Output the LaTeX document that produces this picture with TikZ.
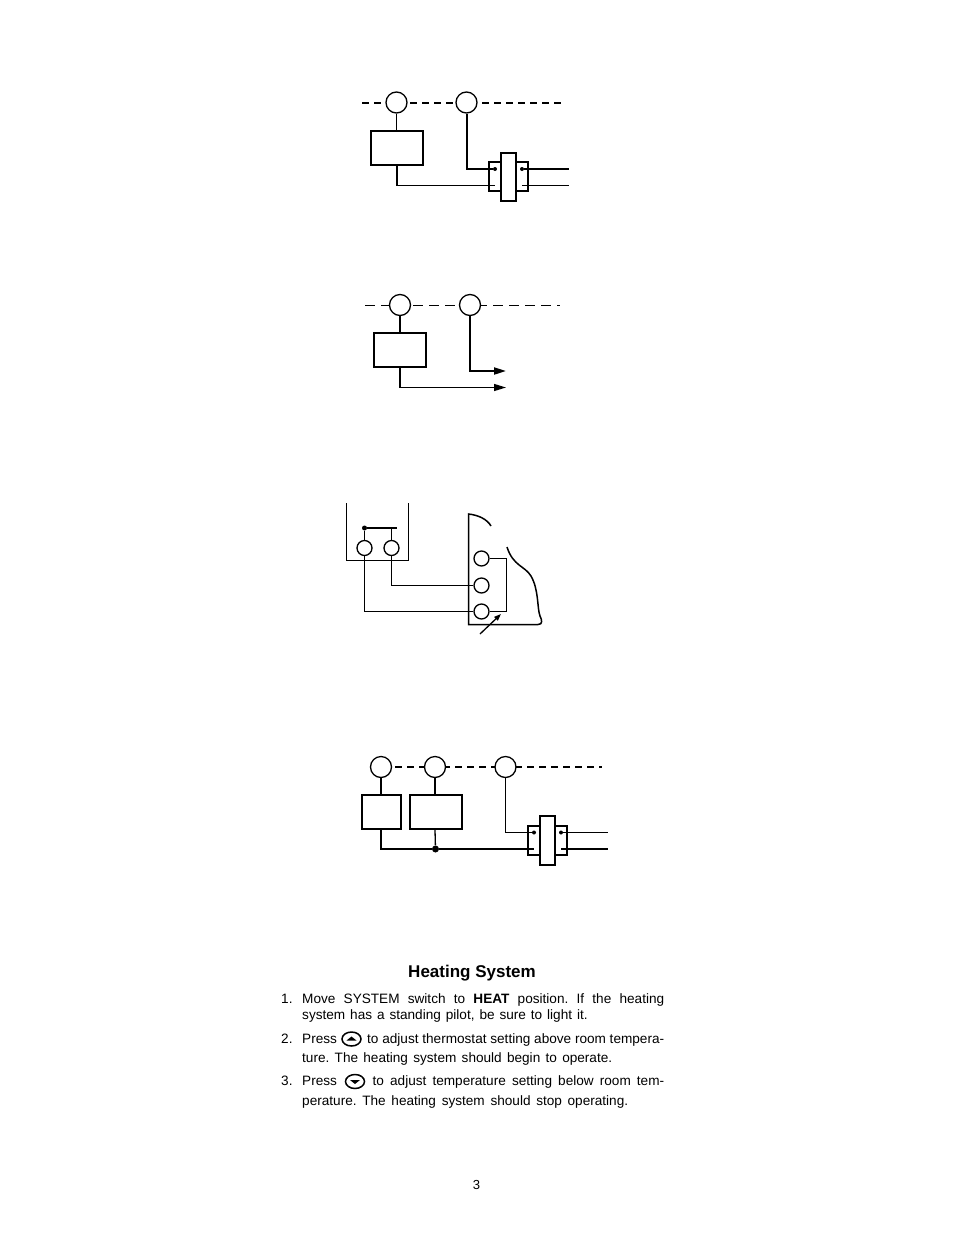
\documentclass[tikz,border=0pt]{standalone}
\usepackage{fontspec}
\setmainfont{Liberation Sans}
\usetikzlibrary{arrows.meta, shapes.geometric}
\newcommand{\fitline}[2]{\makebox[#1][s]{\frenchspacing\spaceskip=2pt plus 20pt\relax #2}}
\tikzset{
    term/.style={draw, circle, fill=white, minimum size=21pt, inner sep=0pt, line width=1.3pt},
    smallterm/.style={draw, circle, fill=white, minimum size=15pt, inner sep=0pt, line width=1.3pt},
    load/.style={draw, fill=white, inner sep=0pt, line width=2pt},
    relayout/.style={draw, inner sep=0pt, minimum width=39pt, minimum height=29pt, line width=2pt},
    relaymid/.style={draw, fill=white, inner sep=0pt, minimum width=15pt, minimum height=48pt, line width=2pt},
    dot/.style={circle, fill=black, inner sep=0pt, minimum size=5pt},
    bigdot/.style={circle, fill=black, inner sep=0pt, minimum size=7pt},
    thin wire/.style={line width=1.3pt},
    thick wire/.style={line width=2pt},
    bus/.style={line width=2pt, dash pattern=on 7pt off 5pt},
    txt/.style={anchor=base west, inner sep=0pt, font=\fontsize{13.6}{15}\selectfont},
    button/.style={draw, ellipse, inner sep=0pt, minimum width=19pt, minimum height=14pt, line width=1.5pt},
}
\begin{document}
\begin{tikzpicture}[x=1pt, y=-1pt]
    \useasboundingbox (0,0) rectangle (954,1235);
    % first wiring
    \coordinate (as) at (362,102.5);
    \coordinate (ae) at (563,102.5);
    \coordinate (ad3) at (495,185.5);
    \coordinate (ad4) at (522,185.5);
    \coordinate (ao1) at (569,169);
    \coordinate (ao2) at (569,185.5);
    \draw[bus] (as) -- (ae);
    \node[term] (a1) at (396.5,102.5) {};
    \node[term] (a2) at (466.5,102.5) {};
    \node[load, minimum width=52pt, minimum height=34pt] (al) at (397,148) {};
    \node[relayout] (ar) at (508.5,176.5) {};
    \node[dot, minimum size=4pt] (ad1) at (495,169) {};
    \node[dot, minimum size=4pt] (ad2) at (522,169) {};
    \draw[thin wire] (a1.south) -- (al.north -| a1);
    \draw[thick wire] (a2.south) |- (ad1);
    \draw[thin wire] (al.south) |- (ad3);
    \draw[thick wire] (ad2) -- (ao1);
    \draw[thin wire] (ad4) -- (ao2);
    \node[relaymid] (am) at (508.5,177) {};

    % second wiring
    \coordinate (bs) at (365,305.5);
    \coordinate (be) at (560,305.5);
    \coordinate (bo1) at (506,371);
    \coordinate (bo2) at (506,387.5);
    \draw[thin wire, dash pattern=on 10pt off 6pt] (bs) -- (be);
    \node[term] (b1) at (400,305) {};
    \node[term] (b2) at (470,305) {};
    \node[load, minimum width=52pt, minimum height=34pt] (bl) at (400,350) {};
    \draw[thick wire] (b1) -- (bl);
    \draw[thick wire, -{Triangle[length=12pt,width=7pt]}] (b2.south) |- (bo1);
    \draw[thin wire, -{Triangle[length=12pt,width=7pt]}] (bl.south) |- (bo2);

    % third wiring
    \coordinate (cl) at (346.5,503);
    \coordinate (cr) at (408.5,503);
    \coordinate (cb) at (408.5,560.5);
    \coordinate (cbar) at (397,528);
    \node[bigdot, minimum size=5pt] (cd) at (364.5,528) {};
    \node[smallterm] (c1) at (364.5,548) {};
    \node[smallterm] (c2) at (391.5,548) {};
    \node[smallterm] (c3) at (481.5,558.5) {};
    \node[smallterm] (c4) at (481.5,585.5) {};
    \node[smallterm] (c5) at (481.5,611.5) {};
    \coordinate (cj1) at (506.5,558.5);
    \coordinate (cj2) at (506.5,611.5);
    \coordinate (ca1) at (480,634);
    \coordinate (ca2) at (501,614);
    \coordinate (cc) at (391.5,528);
    \draw[thin wire] (cl) |- (cb) -- (cr);
    \draw[thick wire] (cd) -- (cbar);
    \draw[thin wire] (cd) -- (c1);
    \draw[thin wire] (cc) -- (c2);
    \draw[thin wire] (c1.south) |- (c5.west);
    \draw[thin wire] (c2.south) |- (c4.west);
    \draw[thin wire] (c3.east) -- (cj1) -- (cj2) -- (c5.east);
    \draw[thin wire, -{Triangle[length=7pt,width=5pt]}] (ca1) -- (ca2);
    \draw[line width=1.5pt] (491,526) .. controls (487,519) and (478,515) .. (468.5,514) -- (468.5,624.5) -- (538,624.5)
        .. controls (543,624.5) and (542,620) .. (540,616) .. controls (537,608) and (539,590) .. (531,576)
        .. controls (525,566) and (513,566) .. (507,547);

    % fourth wiring
    \coordinate (ds) at (395,767);
    \coordinate (de) at (602,767);
    \coordinate (do1) at (608,832.5);
    \coordinate (do2) at (608,849);
    \draw[bus] (ds) -- (de);
    \node[term] (d1) at (381,767) {};
    \node[term] (d2) at (435,767) {};
    \node[term] (d3) at (505.5,767) {};
    \node[load, minimum width=39pt, minimum height=34pt] (dl1) at (381.5,812) {};
    \node[load, minimum width=52pt, minimum height=34pt] (dl2) at (436,812) {};
    \node[relayout] (dr) at (547.5,840.5) {};
    \node[dot, minimum size=4pt] (dd1) at (534,832.5) {};
    \node[dot, minimum size=4pt] (dd2) at (561,832.5) {};
    \coordinate (dd3) at (534,849);
    \coordinate (dd4) at (561,849);
    \node[bigdot] (dj) at (435.5,849) {};
    \draw[thick wire] (d1) -- (d1 |- dl1.north);
    \draw[thin wire] (d2) -- (d2 |- dl2.north);
    \draw[thin wire] (d3.south) |- (dd1);
    \draw[thick wire] (d1 |- dl1.south) |- (dj);
    \draw[thin wire] (d2 |- dl2.south) -- (dj);
    \draw[thick wire] (dj) -- (dd3);
    \draw[thin wire] (dd2) -- (do1);
    \draw[thick wire] (dd4) -- (do2);
    \node[relaymid, minimum height=49pt] (dm) at (547.5,840.5) {};

    % text
    \node[anchor=base, inner sep=0pt, font=\fontsize{17}{18}\selectfont\bfseries] (head) at (472,977.5) {Heating System};
    \node[txt] (n1) at (281,1003) {1.};
    \node[txt] (l1) at (302,1003) {\fitline{362pt}{Move SYSTEM switch to \textbf{HEAT} position. If the heating}};
    \node[txt] (l2) at (302,1019) {\fitline{285.5pt}{system has a standing pilot, be sure to light it.}};
    \node[txt] (n2) at (281,1043) {2.};
    \node[txt] (l3a) at (302,1043) {Press};
    \node[button] (up) at (351.5,1039) {};
    \fill (up.center) ++(-5,1.5) -- ++(5,-4) -- ++(5,4) -- cycle;
    \node[txt] (l3b) at (367,1043) {\fitline{297pt}{to adjust thermostat setting above room tempera-}};
    \node[txt] (l4) at (302,1062) {\fitline{310pt}{ture. The heating system should begin to operate.}};
    \node[txt] (n3) at (281,1085) {3.};
    \node[txt] (l5a) at (302,1085) {Press};
    \node[button] (down) at (355,1081.5) {};
    \fill (down.center) ++(-5,-1.5) -- ++(5,4) -- ++(5,-4) -- cycle;
    \node[txt] (l5b) at (372.5,1085) {\fitline{291.5pt}{to adjust temperature setting below room tem-}};
    \node[txt] (l6) at (302,1105) {\fitline{326pt}{perature. The heating system should stop operating.}};
    \node[anchor=base, inner sep=0pt, font=\fontsize{13.1}{15}\selectfont] (page) at (476.5,1189) {3};
\end{tikzpicture}
\end{document}
